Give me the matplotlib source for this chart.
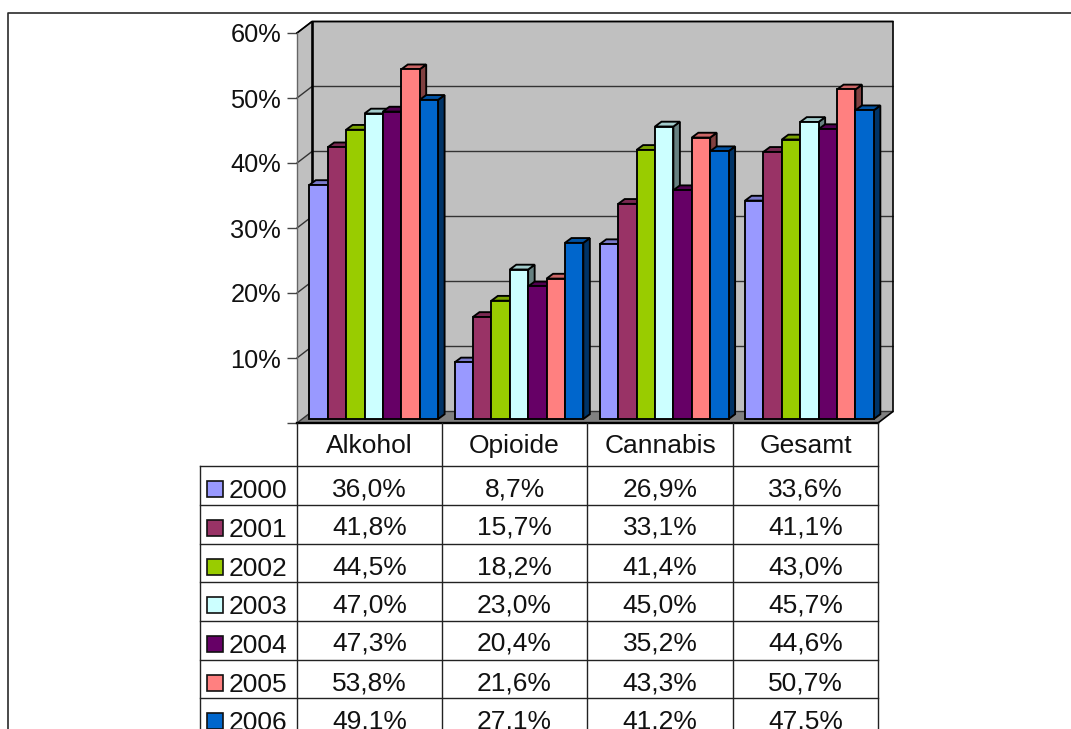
import matplotlib
matplotlib.use("Agg")
import matplotlib.pyplot as plt
from matplotlib.patches import Polygon, Rectangle

plt.rcParams['font.family'] = ['Liberation Sans', 'DejaVu Sans']

categories = ['Alkohol', 'Opioide', 'Cannabis', 'Gesamt']
years = ['2000', '2001', '2002', '2003', '2004', '2005', '2006']
colors = ['#9999FF', '#993366', '#99CC00', '#CCFFFF', '#660066', '#FF8080', '#0066CC']

v2000 = [36.0, 8.7, 26.9, 33.6]
v2001 = [41.8, 15.7, 33.1, 41.1]
v2002 = [44.5, 18.2, 41.4, 43.0]
v2003 = [47.0, 23.0, 45.0, 45.7]
v2004 = [47.3, 20.4, 35.2, 44.6]
v2005 = [53.8, 21.6, 43.3, 50.7]
v2006 = [49.1, 27.1, 41.2, 47.5]
values = [v2000, v2001, v2002, v2003, v2004, v2005, v2006]

yticks = [0, 10, 20, 30, 40, 50, 60]
ytick_labels = ['', '10%', '20%', '30%', '40%', '50%', '60%']

W, H = 1071, 729
# front plane of the fake 3d box, in pixels
LEFT, RIGHT, TOP, BASE = 297, 878, 33, 423

fig = plt.figure(figsize=(W / 100, H / 100), dpi=100)
ax = fig.add_axes([LEFT / W, 1 - BASE / H, (RIGHT - LEFT) / W, (BASE - TOP) / H])
ax.set_xlim(0, 4)
ax.set_ylim(0, 60)
ax.patch.set_visible(False)

px_x = 4 / (RIGHT - LEFT)
px_y = 60 / (BASE - TOP)
depth_x = 15 * px_x
depth_y = 11.5 * px_y
bar_w = 18.4 * px_x
bar_dx = 6.5 * px_x
bar_dy = 4.8 * px_y
start_x = 12.3 * px_x
floor_y = 4 * px_y
WALL = '#C0C0C0'
GRID = '#333333'
BAR_LW = 1.35


def shade(color, f):
    rgb = matplotlib.colors.to_rgb(color)
    return tuple(c * f for c in rgb)


# walls and floor
ax.add_patch(Polygon([(depth_x, depth_y), (4 + depth_x, depth_y), (4 + depth_x, 60 + depth_y), (depth_x, 60 + depth_y)],
                     fc=WALL, ec='none', clip_on=False, zorder=1))
ax.add_patch(Polygon([(0, 0), (depth_x, depth_y), (depth_x, 60 + depth_y), (0, 60)],
                     fc=WALL, ec='none', clip_on=False, zorder=1))
ax.add_patch(Polygon([(0, 0), (4, 0), (4 + depth_x, depth_y), (depth_x, depth_y)],
                     fc='#808080', ec='none', clip_on=False, zorder=1))

for t in yticks:
    ax.plot([0, depth_x, 4 + depth_x], [t, t + depth_y, t + depth_y], color=GRID, lw=1.0,
            clip_on=False, zorder=2)
ax.plot([depth_x, depth_x], [depth_y, 60 + depth_y], color='black', lw=1.9, clip_on=False, zorder=2)
ax.plot([0, depth_x, 4 + depth_x, 4 + depth_x, 4], [60, 60 + depth_y, 60 + depth_y, depth_y, 0],
        color='black', lw=1.2, clip_on=False, zorder=2)

# bars, drawn left to right so each one covers the side of the previous
order = 3
for c in range(len(categories)):
    for i, year in enumerate(years):
        val = values[i][c]
        x = c + start_x + i * bar_w
        y0 = floor_y
        y1 = floor_y + val
        col = colors[i]
        ax.add_patch(Polygon([(x + bar_w, y0), (x + bar_w + bar_dx, y0 + bar_dy),
                              (x + bar_w + bar_dx, y1 + bar_dy), (x + bar_w, y1)],
                             fc=shade(col, 0.5), ec='black', lw=BAR_LW, clip_on=False, zorder=order))
        ax.add_patch(Polygon([(x, y1), (x + bar_dx, y1 + bar_dy), (x + bar_w + bar_dx, y1 + bar_dy), (x + bar_w, y1)],
                             fc=shade(col, 0.8), ec='black', lw=BAR_LW, clip_on=False, zorder=order))
        ax.bar(x, val, bar_w, bottom=y0, align='edge', color=col, edgecolor='black', lw=BAR_LW,
               clip_on=False, zorder=order + 0.5)
        order += 1

ax.set_xticks([])
ax.set_yticks(yticks)
ax.set_yticklabels(ytick_labels, fontsize=18.3)
ax.tick_params(axis='y', length=7.5, width=1.0, color='#444444', pad=4, labelcolor='#111111')
for s in ['top', 'right']:
    ax.spines[s].set_visible(False)
ax.spines['left'].set_color('#666666')
ax.spines['left'].set_linewidth(1.0)
ax.spines['left'].set_zorder(2)
ax.spines['bottom'].set_linewidth(1.7)
ax.spines['bottom'].set_color('black')
ax.spines['bottom'].set_zorder(50)

# page frame and data table, in pixels
page = fig.add_axes([0, 0, 1, 1])
page.set_xlim(0, W)
page.set_ylim(H, 0)
page.axis('off')
page.patch.set_visible(False)

page.plot([W, 7.5, 7.5], [12.5, 12.5, H], color='#2a2a2a', lw=1.2)

col_x = [297, 442, 587, 733, 878]
row_y = [466, 505, 544, 582, 621, 660, 698]
LINE = '#222222'
for x in col_x:
    page.plot([x, x], [BASE, H], color=LINE, lw=1.0)
page.plot([200, 200], [466, H], color=LINE, lw=1.0)
for y in row_y:
    page.plot([200, 878], [y, y], color=LINE, lw=1.0)

TXT = '#111111'
for c, name in enumerate(categories):
    cx = (col_x[c] + col_x[c + 1]) / 2
    page.text(cx, BASE + 30, name, ha='center', va='baseline', fontsize=19, color=TXT)
    for i in range(len(years)):
        label = f"{values[i][c]:.1f}%".replace('.', ',')
        page.text(cx, row_y[i] + 30, label, ha='center', va='baseline', fontsize=19, color=TXT, clip_on=True)

for i, year in enumerate(years):
    page.add_patch(Rectangle((206.5, row_y[i] + 15), 16, 16, fc=colors[i], ec='#111111', lw=1.2))
    page.text(229, row_y[i] + 32, year, ha='left', va='baseline', fontsize=19, color=TXT, clip_on=True)

fig.savefig('out.png', dpi=100)
